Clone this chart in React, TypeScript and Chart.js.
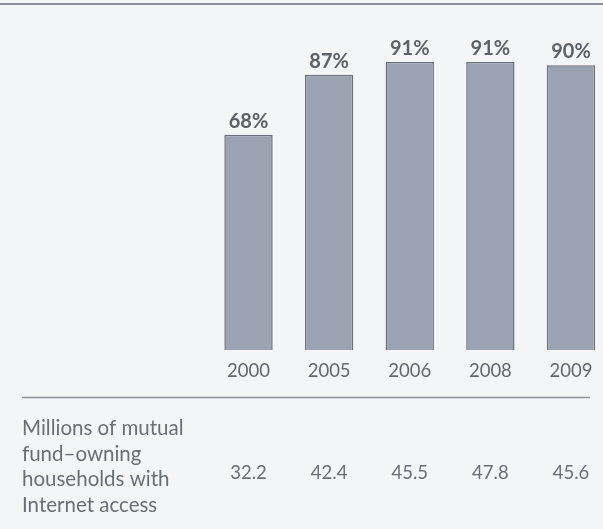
import React, { useEffect, useRef } from "react";
import { Chart, registerables } from "chart.js";

Chart.register(...registerables);

const years = ["2000", "2005", "2006", "2008", "2009"];
const sharePct = [68, 87, 91, 91, 90];
const householdsMillions = ["32.2", "42.4", "45.5", "47.8", "45.6"];
const tableLabelLines = [
  "Millions of mutual",
  "fund–owning",
  "households with",
  "Internet access",
];

const TEXT = "#62666d";

const overlayPlugin = {
  id: "overlay",
  afterDatasetsDraw(chart: any) {
    const { ctx, scales } = chart;
    const x = scales.x;
    const y = scales.y;
    ctx.save();
    // top border
    ctx.strokeStyle = "#8b8e94";
    ctx.lineWidth = 2;
    ctx.beginPath();
    ctx.moveTo(0, 4);
    ctx.lineTo(chart.width, 4);
    ctx.stroke();

    // percent labels
    ctx.fillStyle = "#5d6168";
    ctx.font = "bold 20px Lato";
    ctx.textAlign = "center";
    ctx.textBaseline = "alphabetic";
    sharePct.forEach((v, i) => {
      ctx.fillText(v + "%", x.getPixelForValue(i), y.getPixelForValue(v) - 7);
    });

    // year labels
    ctx.fillStyle = TEXT;
    ctx.font = "18.5px Lato";
    ctx.textBaseline = "middle";
    years.forEach((yr, i) => {
      ctx.fillText(yr, x.getPixelForValue(i), 371);
    });

    // rule
    ctx.strokeStyle = "#8f9399";
    ctx.lineWidth = 1.5;
    ctx.beginPath();
    ctx.moveTo(22, 397.5);
    ctx.lineTo(590, 397.5);
    ctx.stroke();

    // table
    ctx.fillStyle = "#6a6e75";
    ctx.font = "20.5px Lato";
    ctx.textAlign = "left";
    ctx.textBaseline = "alphabetic";
    tableLabelLines.forEach((line, i) => {
      ctx.fillText(line, 22, 435 + i * 25.7);
    });
    ctx.textAlign = "center";
    ctx.font = "18.5px Lato";
    householdsMillions.forEach((v, i) => {
      ctx.fillText(v, x.getPixelForValue(i), 479);
    });
    ctx.restore();
  },
};

export default function App() {
  const ref = useRef<HTMLCanvasElement>(null);
  useEffect(() => {
    if (!ref.current) return;
    const chart = new Chart(ref.current, {
      type: "bar",
      data: {
        labels: years,
        datasets: [
          {
            data: sharePct,
            backgroundColor: "#9ba3b3",
            borderColor: "#6c7079",
            borderWidth: 1.5,
            categoryPercentage: 1,
            barPercentage: 0.6,
            clip: false as any,
          },
        ],
      },
      plugins: [overlayPlugin],
      options: {
        animation: false,
        responsive: false,
        layout: { padding: { left: 248.5, right: 32, top: 33.5, bottom: 179 } },
        plugins: { legend: { display: false }, tooltip: { enabled: false } },
        scales: {
          x: { display: false, offset: false },
          y: { display: false, min: 0, max: 100 },
        },
      },
    });
    return () => chart.destroy();
  }, []);
  return (
    <div style={{ position: "fixed", left: 0, top: 0, width: 603, height: 529, background: "#f4f5f7" }}>
      <canvas ref={ref} width={603} height={529} style={{ display: "block" }} />
    </div>
  );
}
